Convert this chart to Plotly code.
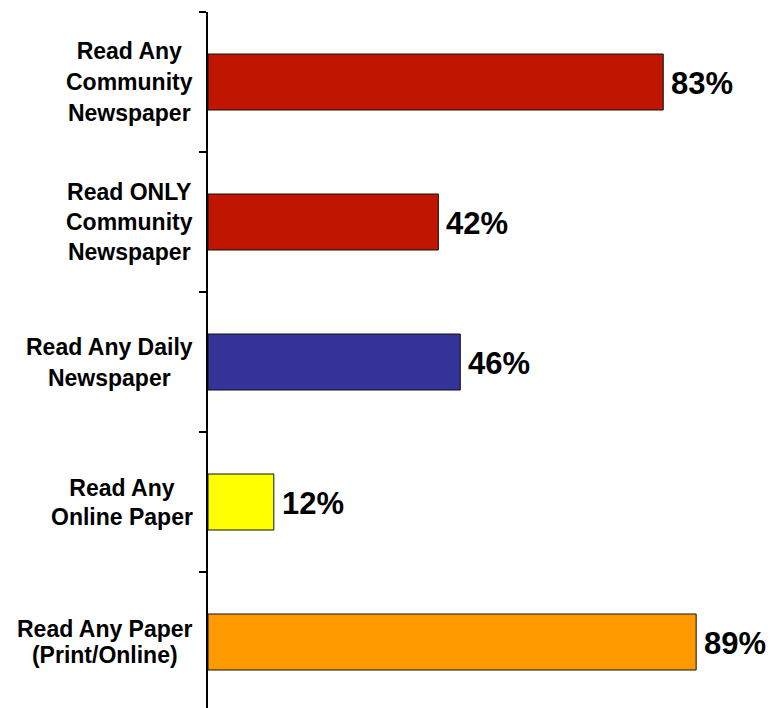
import plotly.graph_objects as go

# Readership shares (percent of respondents)
categories = [
    "Read Any<br>Community<br>Newspaper",
    "Read ONLY<br>Community<br>Newspaper",
    "Read Any Daily<br>Newspaper",
    "Read Any<br>Online Paper",
    "Read Any Paper<br>(Print/Online)",
]
values = [83, 42, 46, 12, 89]
value_labels = ["83%", "42%", "46%", "12%", "89%"]
bar_colors = ["#C01500", "#C01500", "#333399", "#FFFF00", "#FF9900"]

FONT = "Arial, 'Liberation Sans', sans-serif"
LABEL_SIZE = 23
LINE_BOX = [24, 23, 24, 22, 20]   # outer size sets the gap between label lines

fig = go.Figure(
    go.Bar(
        x=values,
        y=categories,
        orientation="h",
        width=0.4,
        marker=dict(color=bar_colors, line=dict(color="#111111", width=1)),
        hoverinfo="skip",
    )
)

annotations = []
for cat, val, lab, box in zip(categories, values, value_labels, LINE_BOX):
    # value label to the right of each bar
    annotations.append(dict(
        x=val, y=cat, xref="x", yref="y",
        text=lab, showarrow=False,
        xanchor="left", yanchor="middle", xshift=6, yshift=-1,
        font=dict(family=FONT, size=31, color="black", weight="bold"),
    ))
    # category label left of the axis, lines centred within the block
    lines = cat.split("<br>")
    txt = "<br>".join(f"<span style='font-size:{LABEL_SIZE}px'>{l}</span>" for l in lines)
    annotations.append(dict(
        x=0, y=cat, xref="paper", yref="y",
        text=txt, showarrow=False, align="center",
        xanchor="right", yanchor="middle", xshift=-13,
        font=dict(family=FONT, size=box, color="black", weight="bold"),
    ))

L, T = 208, 12
W, H = 773, 708
px_per_cat = 140
n_units = (H - T) / px_per_cat

fig.update_layout(
    width=W, height=H,
    margin=dict(l=L, r=0, t=T, b=0),
    paper_bgcolor="white", plot_bgcolor="white",
    showlegend=False,
    annotations=annotations,
    xaxis=dict(range=[0, (W - L) / 5.485], visible=False, fixedrange=True),
    yaxis=dict(
        type="category",
        categoryorder="array", categoryarray=categories,
        range=[-0.5 + n_units, -0.5],
        showticklabels=False,
        showline=True, linecolor="black", linewidth=2,
        ticks="outside", tickson="boundaries", ticklen=7,
        tickwidth=1.5, tickcolor="black",
        showgrid=False, zeroline=False, fixedrange=True,
    ),
)

fig.write_html("out.html")
